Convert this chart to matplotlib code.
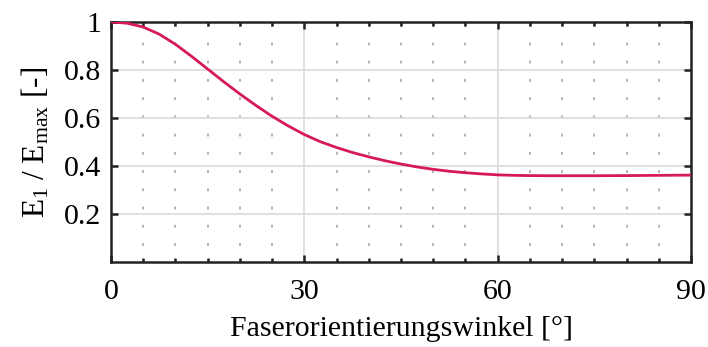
import matplotlib
matplotlib.use('Agg')
import matplotlib.pyplot as plt
from matplotlib.ticker import FixedLocator

# values
angle_deg = [0, 2.5, 5, 7.5, 10, 12.5, 15, 17.5, 20, 22.5, 25, 27.5, 30, 32.5,
             35, 37.5, 40, 42.5, 45, 47.5, 50, 52.5, 55, 57.5, 60, 62.5, 65,
             67.5, 70, 75, 80, 85, 90]
e_ratio = [1.0, 0.995, 0.979, 0.949, 0.907, 0.857, 0.804, 0.751, 0.700, 0.652,
           0.607, 0.567, 0.531, 0.501, 0.477, 0.456, 0.438, 0.422, 0.408,
           0.396, 0.386, 0.378, 0.372, 0.367, 0.363, 0.361, 0.360, 0.3595,
           0.3595, 0.3595, 0.360, 0.361, 0.362]

x_major = [0, 30, 60, 90]
x_minor = [v for v in range(5, 90, 5) if v % 30 != 0]
y_major = [0.2, 0.4, 0.6, 0.8, 1.0]
y_labels = ['0.2', '0.4', '0.6', '0.8', '1']

plt.rcParams['font.family'] = ['Liberation Serif', 'DejaVu Serif']
plt.rcParams['mathtext.fontset'] = 'custom'
plt.rcParams['mathtext.rm'] = 'Liberation Serif'
plt.rcParams['mathtext.it'] = 'Liberation Serif:italic'

fig = plt.figure(figsize=(7.08, 3.47), dpi=100)
ax = fig.add_axes([0.1568, 0.245, 0.8192, 0.6916])

# grid
for v in x_minor:
    ax.axvline(v, color='#adadad', lw=1.3, ls=(1.2, (1.6, 8.5)), zorder=0)
for v in x_major[1:-1]:
    ax.axvline(v, color='#dadada', lw=1.2, zorder=0.5)
for v in y_major[:-1]:
    ax.axhline(v, color='#dadada', lw=1.2, zorder=0.5)

ax.plot(angle_deg, e_ratio, color='#d6185c', lw=2.0, zorder=3)

ax.set_xlim(0, 90)
ax.set_ylim(0, 1)
ax.xaxis.set_major_locator(FixedLocator(x_major))
ax.xaxis.set_minor_locator(FixedLocator(x_minor))
ax.yaxis.set_major_locator(FixedLocator(y_major))
ax.set_yticklabels(y_labels)

for s in ax.spines.values():
    s.set_linewidth(1.8)
    s.set_color('#222222')

ax.tick_params(which='both', direction='in', top=True, right=True,
               color='#222222', labelsize=21.5)
ax.tick_params(which='major', length=5, width=1.8)
ax.tick_params(which='minor', length=3, width=1.8)
ax.tick_params(axis='x', which='major', pad=12)
ax.tick_params(axis='y', which='major', pad=7)

ax.set_xlabel('Faserorientierungswinkel [°]', fontsize=21.5, labelpad=8)
ax.set_ylabel(r'$\mathrm{E_1\ /\ E_{max}}$ [-]', fontsize=22.5, labelpad=9)

fig.savefig('out.png', dpi=100, facecolor='white')
